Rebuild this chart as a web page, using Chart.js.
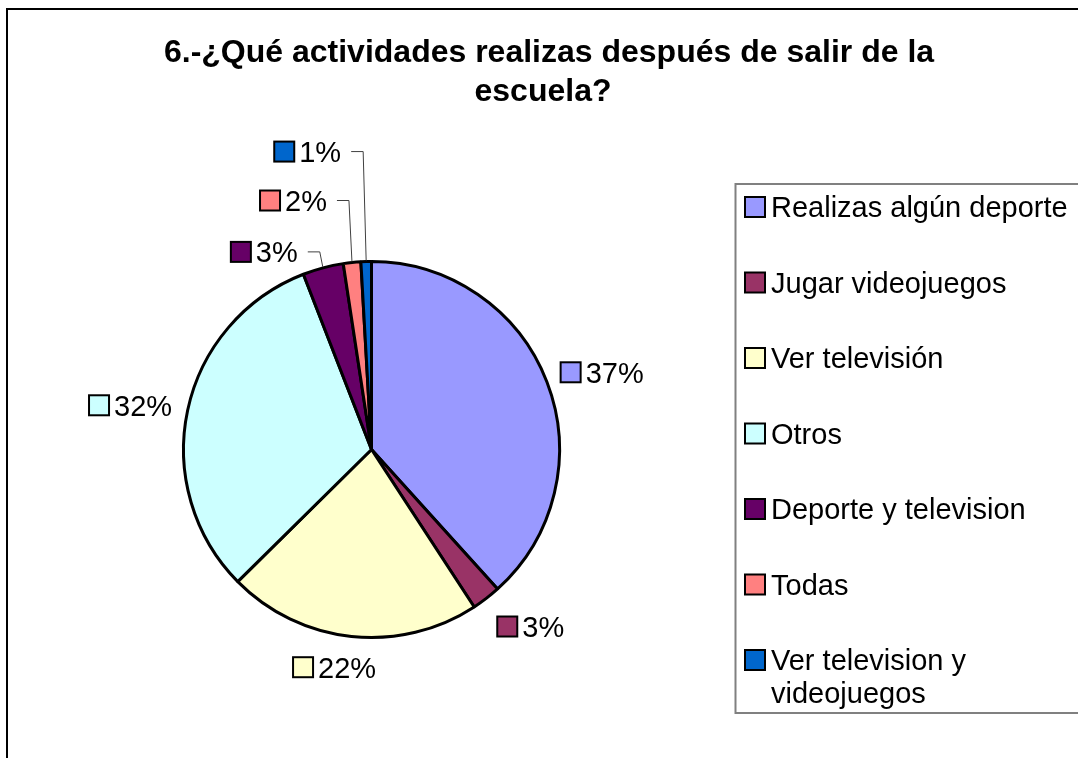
<!DOCTYPE html>
<html>
<head>
<meta charset="utf-8">
<script src="https://cdn.jsdelivr.net/npm/chart.js@4"></script>
<style>
  html, body { margin: 0; padding: 0; background: #fff; }
  #wrap { width: 1078px; height: 758px; }
</style>
</head>
<body>
<div id="wrap"><canvas id="chart" width="1078" height="758"></canvas></div>
<script>
// Data
const titleLines = ['6.-¿Qué actividades realizas después de salir de la', 'escuela?'];
const categories = ['Realizas algún deporte', 'Jugar videojuegos', 'Ver televisión', 'Otros',
    'Deporte y television', 'Todas', ['Ver television y', 'videojuegos']];
const shares = [38.3, 2.5, 21.8, 31.5, 3.5, 1.5, 0.9];
const percentLabels = ['37%', '3%', '22%', '32%', '3%', '2%', '1%'];
const sliceColors = ['#9999FF', '#993366', '#FFFFCC', '#CCFFFF', '#660066', '#FF8080', '#0066CC'];

const FONT = "'Liberation Sans', Arial, sans-serif";

// small slices near the top get their label lifted up with a leader line
const leaderRise = { 4: 15, 5: 61, 6: 109 };
// small hand nudges so the other labels sit where Excel put them
const labelNudge = { 0: [-5, 4], 1: [10, -2], 2: [-10, -7], 3: [6, 3] };

function drawSwatch(ctx, x, y, size, color) {
    ctx.fillStyle = color;
    ctx.fillRect(x, y, size, size);
    ctx.strokeStyle = '#000';
    ctx.lineWidth = 2;
    ctx.strokeRect(x, y, size, size);
}

const decorPlugin = {
    id: 'decor',
    afterDraw(chart) {
        const ctx = chart.ctx;
        ctx.save();

        // outer chart frame (right / bottom fall off the picture)
        ctx.strokeStyle = '#000';
        ctx.lineWidth = 2;
        ctx.strokeRect(7, 9, 1100, 800);

        // title
        ctx.fillStyle = '#000';
        ctx.font = 'bold 32px ' + FONT;
        ctx.textAlign = 'center';
        ctx.textBaseline = 'alphabetic';
        ctx.fillText(titleLines[0], 549, 62);
        ctx.fillText(titleLines[1], 543, 101);

        // legend box
        ctx.strokeStyle = '#808080';
        ctx.lineWidth = 2;
        ctx.strokeRect(735.5, 184, 400, 529);

        ctx.font = '29px ' + FONT;
        ctx.textAlign = 'left';
        chart.data.labels.forEach((lab, i) => {
            const base = 217 + i * 75.5;
            drawSwatch(ctx, 745, base - 20, 20, sliceColors[i]);
            ctx.fillStyle = '#000';
            const lines = Array.isArray(lab) ? lab : [lab];
            lines.forEach((t, j) => ctx.fillText(t, 771, base + j * 33));
        });

        // data labels
        const meta = chart.getDatasetMeta(0);
        meta.data.forEach((arc, i) => {
            const p = arc.getProps(['x', 'y', 'startAngle', 'endAngle', 'outerRadius'], true);
            const mid = (p.startAngle + p.endAngle) / 2;
            const dx = Math.cos(mid), dy = Math.sin(mid);
            const r = p.outerRadius + 1;
            const edgeX = p.x + dx * r, edgeY = p.y + dy * r;
            const txt = percentLabels[i];
            const tw = ctx.measureText(txt).width;
            const sw = 20, gapSw = 5;
            const w = sw + gapSw + tw, h = 30;
            let left, cy;
            if (leaderRise[i] !== undefined) {
                const elbowX = edgeX - 3, elbowY = edgeY - leaderRise[i];
                const endX = elbowX - 12;
                ctx.strokeStyle = '#404040';
                ctx.lineWidth = 1;
                ctx.beginPath();
                ctx.moveTo(edgeX, edgeY);
                ctx.lineTo(elbowX, elbowY);
                ctx.lineTo(endX, elbowY);
                ctx.stroke();
                left = endX - 10 - w;
                cy = elbowY;
            } else {
                const gap = 22;
                const nudge = labelNudge[i] || [0, 0];
                const cx = edgeX + dx * gap + dx * w / 2 + nudge[0];
                cy = edgeY + dy * gap + dy * h / 2 + nudge[1];
                left = cx - w / 2;
            }
            drawSwatch(ctx, left, cy - sw / 2, sw, sliceColors[i]);
            ctx.fillStyle = '#000';
            ctx.fillText(txt, left + sw + gapSw, cy + 10.5);
        });

        ctx.restore();
    }
};

new Chart(document.getElementById('chart'), {
    type: 'pie',
    data: {
        labels: categories,
        datasets: [{
            data: shares,
            backgroundColor: sliceColors,
            borderColor: '#000',
            borderWidth: 3,
            hoverBorderWidth: 3,
            hoverOffset: 0
        }]
    },
    options: {
        responsive: false,
        animation: false,
        events: [],
        layout: {
            padding: { left: 182, top: 260, right: 517, bottom: 119 }
        },
        plugins: {
            legend: { display: false },
            title: { display: false },
            tooltip: { enabled: false }
        }
    },
    plugins: [decorPlugin]
});
</script>
</body>
</html>
